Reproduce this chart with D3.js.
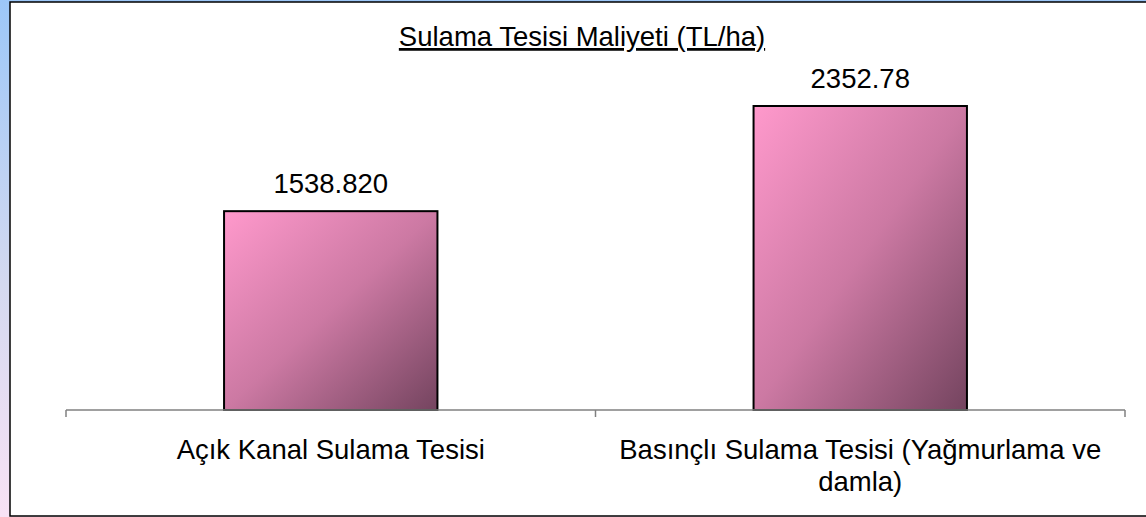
<!DOCTYPE html>
<html>
<head>
<meta charset="utf-8">
<script src="https://cdn.jsdelivr.net/npm/d3@7"></script>
<style>
  html, body { margin: 0; padding: 0; background: #fff; }
  svg { display: block; }
</style>
</head>
<body>
<svg id="chart" width="1146" height="517"></svg>
<script>
// ---- data ----
const categories = ["Açık Kanal Sulama Tesisi", "Basınçlı Sulama Tesisi (Yağmurlama ve damla)"];
const categoryLines = [["Açık Kanal Sulama Tesisi"], ["Basınçlı Sulama Tesisi (Yağmurlama ve", "damla)"]];
const values = [1538.82, 2352.78];
const valueLabels = ["1538.820", "2352.78"];
const titleText = "Sulama Tesisi Maliyeti (TL/ha)";

const W = 1146, H = 517;
const svg = d3.select("#chart");
const defs = svg.append("defs");

const bg = defs.append("linearGradient").attr("id", "bg")
  .attr("x1", 0).attr("y1", 0).attr("x2", 0).attr("y2", 1);
bg.append("stop").attr("offset", "0%").attr("stop-color", "#9cc7f8");
bg.append("stop").attr("offset", "55%").attr("stop-color", "#d4d9f0");
bg.append("stop").attr("offset", "100%").attr("stop-color", "#f9e2f5");

const barG = defs.append("linearGradient").attr("id", "barg")
  .attr("x1", 0).attr("y1", 0).attr("x2", 1).attr("y2", 1);
barG.append("stop").attr("offset", "0%").attr("stop-color", "#ff99cc");
barG.append("stop").attr("offset", "50%").attr("stop-color", "#cc79a3");
barG.append("stop").attr("offset", "100%").attr("stop-color", "#74445f");

svg.append("rect").attr("width", W).attr("height", H).attr("fill", "url(#bg)");
svg.append("rect").attr("x", 10).attr("y", 2).attr("width", W).attr("height", 514)
  .attr("fill", "#fff").attr("stroke", "#000").attr("stroke-width", 1.5);

const font = "'Liberation Sans', Arial, sans-serif";
const fs = 27.5;

// scales
const x = d3.scaleBand().domain(categories).range([66, 1125]).padding(0);
const y = d3.scaleLinear().domain([0, 2500]).range([410, 410 - 2500 * (304 / 2352.78)]);
const barW = x.bandwidth() * 0.403;

// bars
svg.selectAll("rect.bar").data(values).join("rect")
  .attr("class", "bar")
  .attr("x", (d, i) => x(categories[i]) + (x.bandwidth() - barW) / 2)
  .attr("y", d => y(d))
  .attr("width", barW)
  .attr("height", d => y(0) - y(d))
  .attr("fill", "url(#barg)")
  .attr("stroke", "#000").attr("stroke-width", 2);

// axis
const axis = d3.axisBottom(x).tickSize(0).tickFormat("");
const ag = svg.append("g").attr("transform", `translate(0,${y(0)})`).call(axis);
ag.select(".domain").remove();
ag.append("line").attr("x1", 66).attr("x2", 1125).attr("y1", 0).attr("y2", 0)
  .attr("stroke", "#808080").attr("stroke-width", 1.5);
const tickXs = [x.range()[0]].concat(categories.map(c => x(c) + x.bandwidth()));
ag.selectAll("line.tk").data(tickXs).join("line").attr("class", "tk")
  .attr("x1", d => d).attr("x2", d => d).attr("y1", 0).attr("y2", 7)
  .attr("stroke", "#808080").attr("stroke-width", 1.5);

// category labels
categories.forEach((c, i) => {
  const t = svg.append("text")
    .attr("x", x(c) + x.bandwidth() / 2)
    .attr("y", 459)
    .attr("text-anchor", "middle")
    .attr("font-family", font).attr("font-size", fs).attr("fill", "#000");
  categoryLines[i].forEach((ln, j) => {
    t.append("tspan").attr("x", x(c) + x.bandwidth() / 2).attr("dy", j === 0 ? 0 : 32).text(ln);
  });
});

// value labels
svg.selectAll("text.val").data(values).join("text")
  .attr("class", "val")
  .attr("x", (d, i) => x(categories[i]) + x.bandwidth() / 2)
  .attr("y", d => y(d) - 18)
  .attr("text-anchor", "middle")
  .attr("font-family", font).attr("font-size", fs).attr("fill", "#000")
  .text((d, i) => valueLabels[i]);

// title
svg.append("text").attr("x", 582).attr("y", 46)
  .attr("text-anchor", "middle")
  .attr("font-family", font).attr("font-size", fs).attr("fill", "#000")
  .attr("text-decoration", "underline")
  .text(titleText);
</script>
</body>
</html>
